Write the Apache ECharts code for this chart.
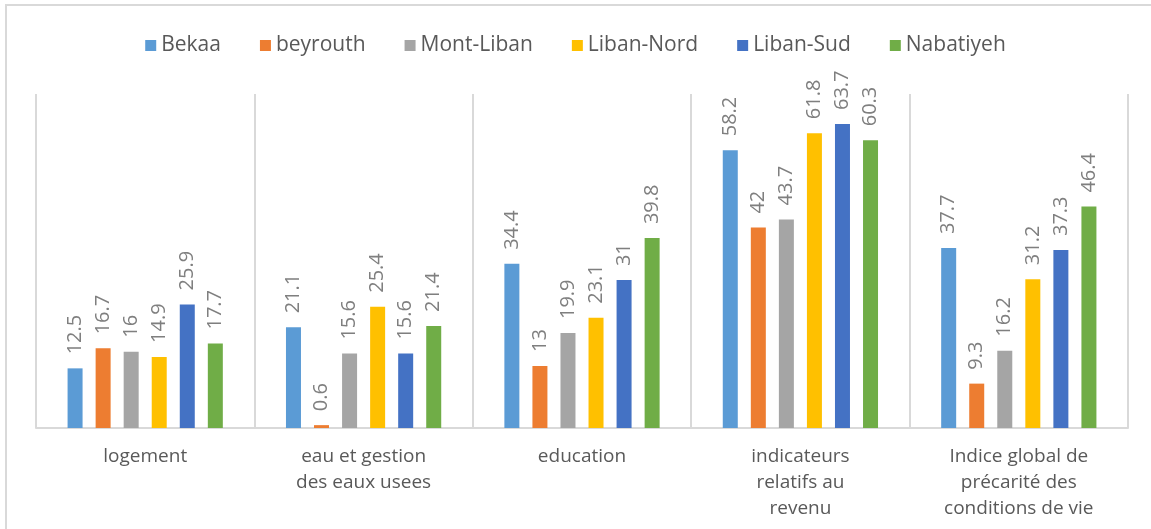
<!DOCTYPE html>
<html>
<head>
<meta charset="utf-8">
<script src="https://cdn.jsdelivr.net/npm/echarts@6/dist/echarts.min.js"></script>
<style>
  html, body { margin: 0; padding: 0; background: #fff; }
  #chart { width: 1151px; height: 529px; }
</style>
</head>
<body>
<div id="chart"></div>
<script>
const categories = [
  'logement',
  'eau et gestion\ndes eaux usees',
  'education',
  'indicateurs\nrelatifs au\nrevenu',
  'Indice global de\nprécarité des\nconditions de vie'
];
const seriesNames = ['Bekaa', 'beyrouth', 'Mont-Liban', 'Liban-Nord', 'Liban-Sud', 'Nabatiyeh'];
const bekaa = [12.5, 21.1, 34.4, 58.2, 37.7];
const beyrouth = [16.7, 0.6, 13, 42, 9.3];
const montLiban = [16, 15.6, 19.9, 43.7, 16.2];
const libanNord = [14.9, 25.4, 23.1, 61.8, 31.2];
const libanSud = [25.9, 15.6, 31, 63.7, 37.3];
const nabatiyeh = [17.7, 21.4, 39.8, 60.3, 46.4];
const colors = ['#5B9BD5', '#ED7D31', '#A5A5A5', '#FFC000', '#4472C4', '#70AD47'];

const seriesData = [bekaa, beyrouth, montLiban, libanNord, libanSud, nabatiyeh];

const chart = echarts.init(document.getElementById('chart'));

const option = {
  animation: false,
  color: colors,
  textStyle: { fontFamily: 'Open Sans' },
  graphic: [{
    type: 'rect',
    shape: { x: 6, y: 5, width: 1200, height: 600 },
    style: { fill: 'none', stroke: '#d9d9d9', lineWidth: 2 },
    silent: true
  }],
  legend: {
    top: 30,
    left: 'center',
    itemWidth: 11,
    itemHeight: 11,
    itemGap: 39,
    icon: 'rect',
    textStyle: { fontSize: 21, color: '#595959', fontFamily: 'Open Sans' },
    data: seriesNames
  },
  grid: {
    left: 36,
    right: 23,
    top: 94,
    bottom: 101
  },
  xAxis: {
    type: 'category',
    data: categories,
    axisTick: { show: false },
    axisLine: { lineStyle: { color: '#d9d9d9', width: 2 } },
    splitLine: { show: true, lineStyle: { color: '#d9d9d9', width: 2 } },
    axisLabel: {
      interval: 0,
      margin: 16,
      fontSize: 19,
      lineHeight: 26,
      color: '#595959',
      fontFamily: 'Open Sans'
    }
  },
  yAxis: {
    type: 'value',
    min: 0,
    max: 70,
    show: false,
    splitLine: { show: false }
  },
  series: seriesNames.map((name, i) => ({
    name: name,
    type: 'bar',
    data: seriesData[i],
    barWidth: 15,
    barGap: '87%',
    label: {
      show: true,
      position: 'top',
      rotate: 90,
      align: 'left',
      verticalAlign: 'middle',
      distance: 14,
      fontSize: 20,
      color: '#7f7f7f',
      fontFamily: 'Open Sans'
    }
  }))
};

chart.setOption(option);
</script>
</body>
</html>
